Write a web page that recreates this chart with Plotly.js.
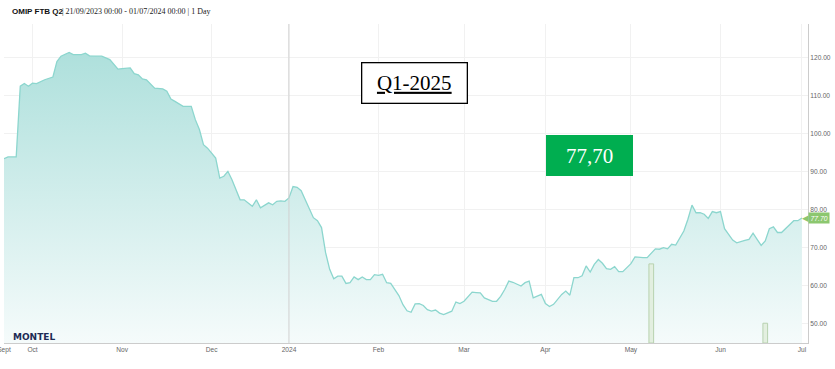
<!DOCTYPE html>
<html>
<head>
<meta charset="utf-8">
<script src="https://cdn.plot.ly/plotly-3.0.1.min.js"></script>
<style>
html,body{margin:0;padding:0;background:#fff;}
#chart{width:835px;height:369px;}
</style>
</head>
<body>
<div id="chart"></div>
<script>
// ---- data ----
const dates = [
 '2023-09-21','2023-09-22','2023-09-26','2023-09-27','2023-09-28','2023-09-29',
 '2023-10-02','2023-10-03','2023-10-05','2023-10-09','2023-10-10','2023-10-11','2023-10-13','2023-10-16','2023-10-18','2023-10-19','2023-10-20','2023-10-25','2023-10-27','2023-10-31',
 '2023-11-01','2023-11-03','2023-11-06','2023-11-07','2023-11-08','2023-11-09','2023-11-13','2023-11-15','2023-11-16','2023-11-17','2023-11-20','2023-11-22','2023-11-24','2023-11-27','2023-11-28','2023-11-29','2023-11-30',
 '2023-12-04','2023-12-05','2023-12-06','2023-12-07','2023-12-08','2023-12-12','2023-12-13','2023-12-15','2023-12-18','2023-12-19','2023-12-21','2023-12-22','2023-12-27','2023-12-28','2023-12-29',
 '2024-01-02','2024-01-03','2024-01-04','2024-01-05','2024-01-08','2024-01-09','2024-01-10','2024-01-11','2024-01-12','2024-01-15','2024-01-16','2024-01-17','2024-01-18','2024-01-19','2024-01-22','2024-01-23','2024-01-24','2024-01-25','2024-01-26','2024-01-29','2024-01-30','2024-01-31',
 '2024-02-01','2024-02-02','2024-02-05','2024-02-06','2024-02-07','2024-02-08','2024-02-09','2024-02-12','2024-02-13','2024-02-14','2024-02-15','2024-02-16','2024-02-19','2024-02-20','2024-02-21','2024-02-22','2024-02-23','2024-02-26','2024-02-27','2024-02-28','2024-02-29',
 '2024-03-01','2024-03-04','2024-03-05','2024-03-06','2024-03-07','2024-03-08','2024-03-11','2024-03-12','2024-03-13','2024-03-14','2024-03-15','2024-03-18','2024-03-19','2024-03-20','2024-03-21','2024-03-22','2024-03-25','2024-03-26','2024-03-27','2024-03-28',
 '2024-04-02','2024-04-03','2024-04-04','2024-04-05','2024-04-08','2024-04-09','2024-04-10','2024-04-11','2024-04-12','2024-04-15','2024-04-16','2024-04-17','2024-04-18','2024-04-19','2024-04-22','2024-04-23','2024-04-24','2024-04-25','2024-04-26','2024-04-29','2024-04-30',
 '2024-05-02','2024-05-03','2024-05-06','2024-05-07','2024-05-08','2024-05-09','2024-05-10','2024-05-13','2024-05-14','2024-05-15','2024-05-16','2024-05-17','2024-05-20','2024-05-21','2024-05-22','2024-05-23','2024-05-24','2024-05-27','2024-05-28','2024-05-29','2024-05-30','2024-05-31',
 '2024-06-03','2024-06-04','2024-06-05','2024-06-06','2024-06-07','2024-06-10','2024-06-11','2024-06-12','2024-06-13','2024-06-14','2024-06-17','2024-06-18','2024-06-19','2024-06-20','2024-06-21','2024-06-24','2024-06-25','2024-06-26','2024-06-27','2024-06-28',
 '2024-07-01'
];
const prices = [
 93.3,93.8,93.8,112.4,113.1,112.4,
 113.2,113.1,114.1,114.8,118.9,120.3,121.3,120.7,120.7,121.1,120.4,120.3,119.4,116.9,
 117.0,117.2,115.7,115.4,114.3,114.1,111.9,111.7,111.1,109.0,108.4,107.1,107.1,103.6,101.0,97.0,96.1,
 93.5,88.2,88.7,90.0,87.8,82.5,82.5,80.8,82.5,80.4,81.7,81.2,82.1,82.2,82.1,
 83.0,86.0,85.8,84.9,82.5,80.0,77.8,77.0,75.2,68.6,64.2,61.7,62.4,62.4,60.5,60.7,62.2,61.5,62.2,61.5,61.5,62.8,
 62.6,62.9,60.7,60.5,58.9,57.3,54.9,53.3,52.9,55.1,55.2,54.7,53.6,53.2,53.5,52.7,52.3,52.7,53.2,55.6,55.2,
 55.8,57.1,58.2,58.1,58.0,56.7,56.3,55.8,55.8,57.1,58.9,61.1,60.8,60.3,59.8,60.7,61.1,56.7,57.1,57.6,
 55.2,54.4,55.0,56.3,57.6,58.5,57.4,62.0,62.0,62.5,65.1,63.5,65.5,66.8,65.8,64.4,64.2,64.9,63.6,63.6,64.6,
 65.7,67.5,67.3,67.3,67.3,68.4,69.6,69.5,69.9,69.6,70.8,70.6,72.3,74.3,77.4,81.1,79.1,79.1,78.7,77.6,79.4,79.1,
 79.4,74.9,73.4,71.9,71.2,71.4,71.8,72.1,73.7,72.1,70.5,71.7,74.9,75.4,73.9,73.9,74.9,76.1,77.0,77.0,
 77.7
];
const volDates = ['2024-05-09','2024-06-18'];
const volValues = [24.8, 6.2];
const holidays = ['2023-12-25','2023-12-26','2024-01-01','2024-03-29','2024-04-01','2024-05-01'];
const tickDates = ['2023-09-21','2023-10-02','2023-11-01','2023-12-01','2024-01-02','2024-02-01','2024-03-01','2024-04-02','2024-05-02','2024-06-03','2024-07-01'];
const tickLabels = ['Sept','Oct','Nov','Dec','2024','Feb','Mar','Apr','May','Jun','Jul'];
const yearStart = '2024-01-02';
const xRange = ['2023-09-21','2024-07-02 12:00'];
const yRange = [44.82, 128.77];
const titleBold = 'OMIP FTB Q2';
const titleRest = '| 21/09/2023 00:00 - 01/07/2024 00:00 | 1 Day';
const boxLabel = 'Q1-2025';
const boxPrice = '77,70';

// ---- layout helpers (pixel -> paper) ----
const M = {l:4, r:27, t:24, b:26};
const W = 835, H = 369;
const PW = W - M.l - M.r, PH = H - M.t - M.b;
const px = x => (x - M.l) / PW;
const py = y => (H - M.b - y) / PH;

const last = prices[prices.length - 1];
const teal = 'rgb(140,214,206)';
const tagGreen = '#8cc76f';

const traces = [
 {
  type:'scatter', mode:'lines', x:dates, y:prices,
  line:{color:teal, width:1.3},
  fill:'tozeroy',
  fillgradient:{type:'vertical', start:yRange[0], stop:Math.max(...prices),
    colorscale:[[0,'rgb(245,251,251)'],[1,'rgb(174,224,220)']]},
  hoverinfo:'skip'
 },
 {
  type:'bar', x:volDates, y:volValues, yaxis:'y2',
  width:86400000*1.15,
  marker:{color:'rgba(226,238,222,0.95)', line:{color:'rgb(184,210,176)', width:1}},
  hoverinfo:'skip'
 }
];

const layout = {
 width:W, height:H,
 margin:M,
 paper_bgcolor:'#fff', plot_bgcolor:'#fff',
 showlegend:false,
 font:{family:'Liberation Sans, Arial, sans-serif', color:'#666'},
 xaxis:{
  type:'date', range:xRange,
  rangebreaks:[{bounds:['sat','mon']},{values:holidays}],
  tickmode:'array', tickvals:tickDates, ticktext:tickLabels,
  ticklabeloverflow:'allow',
  showgrid:true, gridcolor:'#f1f1f1', gridwidth:1,
  showline:true, linecolor:'#cccccc', linewidth:1,
  ticks:'', tickfont:{size:6.6, color:'#666'},
  zeroline:false, fixedrange:true
 },
 yaxis:{
  range:yRange, side:'right', dtick:10, tick0:0, tickformat:'.2f',
  showgrid:true, gridcolor:'#f1f1f1', gridwidth:1,
  showline:true, linecolor:'#cccccc', linewidth:1,
  ticks:'', tickfont:{size:6.6, color:'#666'},
  zeroline:false, fixedrange:true
 },
 yaxis2:{overlaying:'y', range:[0,100], visible:false, fixedrange:true},
 shapes:[
  {type:'line', xref:'x', yref:'paper', x0:yearStart, x1:yearStart, y0:0, y1:1,
   line:{color:'#d0d0d0', width:1}}
 ],
 annotations:[
  {xref:'paper', yref:'paper', x:px(10), y:py(11.5), xanchor:'left', yanchor:'middle', showarrow:false,
   text:'<b>'+titleBold+'</b>', font:{family:'Liberation Sans, Arial, sans-serif', size:8, color:'#111'}},
  {xref:'paper', yref:'paper', x:px(60), y:py(11.5), xanchor:'left', yanchor:'middle', showarrow:false,
   text:titleRest, font:{family:'Liberation Serif, DejaVu Serif, serif', size:8, color:'#222'}},
  {xref:'paper', yref:'paper', x:px(11), y:py(336.5), xanchor:'left', yanchor:'middle', showarrow:false,
   text:'<b>MONTEL</b>', font:{family:'DejaVu Sans, sans-serif', size:9, color:'#1c2b55'}},
  {xref:'paper', yref:'paper', x:px(414.5), y:py(82.5), xanchor:'center', yanchor:'middle', showarrow:false,
   text:'<u>'+boxLabel+'</u>', width:104, height:39, borderpad:0,
   bgcolor:'#ffffff', bordercolor:'#000000', borderwidth:1.3,
   font:{family:'Liberation Serif, DejaVu Serif, serif', size:21, color:'#000'}},
  {xref:'paper', yref:'paper', x:px(589.5), y:py(155.5), xanchor:'center', yanchor:'middle', showarrow:false,
   text:boxPrice, width:87, height:41, borderpad:0,
   bgcolor:'#00ae50', borderwidth:0,
   font:{family:'Liberation Serif, DejaVu Serif, serif', size:21, color:'#ffffff'}},
  {xref:'paper', yref:'y', x:1, y:last, xanchor:'right', yanchor:'middle', showarrow:false, xshift:3,
   text:'◀', font:{family:'DejaVu Sans, sans-serif', size:8.5, color:tagGreen}},
  {xref:'paper', yref:'y', x:1, y:last, xanchor:'left', yanchor:'middle', showarrow:false, xshift:0,
   text:'<i>'+last.toFixed(2)+'</i>', bgcolor:tagGreen, borderpad:1.5,
   font:{family:'Liberation Sans, Arial, sans-serif', size:6.8, color:'#ffffff'}}
 ]
};

Plotly.newPlot('chart', traces, layout, {staticPlot:true, displayModeBar:false});
</script>
</body>
</html>
